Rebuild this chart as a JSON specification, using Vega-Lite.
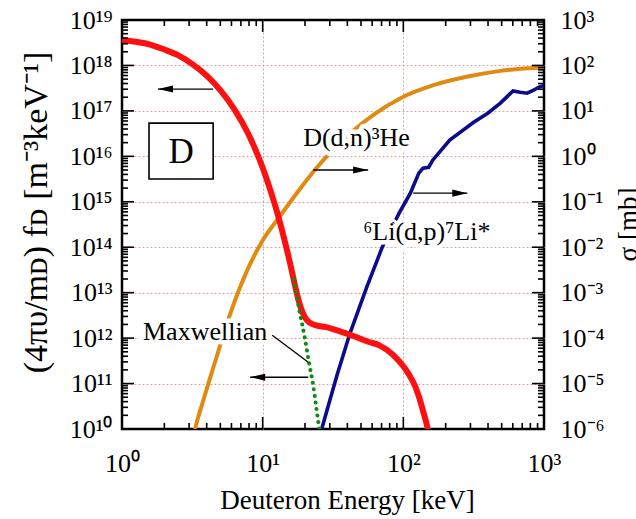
{
  "$schema": "https://vega.github.io/schema/vega-lite/v6.json",
  "width": 422,
  "height": 409,
  "autosize": {"type": "none"},
  "padding": {"left": 122, "top": 20, "right": 92, "bottom": 90},
  "background": "white",
  "config": {
    "view": {"stroke": "black", "strokeWidth": 2.5},
    "font": "Liberation Serif",
    "axis": {
      "labelFont": "Liberation Serif",
      "titleFont": "Liberation Serif",
      "labelFontSize": 26,
      "titleFontSize": 27,
      "labelColor": "black",
      "titleColor": "black",
      "titleFontWeight": "normal",
      "labelOverlap": false,
      "labelFlush": false,
      "domain": false,
      "ticks": false,
      "gridColor": "#e0a0a0",
      "gridDash": [2, 2],
      "gridWidth": 1
    }
  },
  "datasets": {
    "red": [
      {"E": 1, "f": 3.63e18}, {"E": 1.259, "f": 3.31e18}, {"E": 1.585, "f": 2.88e18},
      {"E": 1.995, "f": 2.24e18}, {"E": 2.512, "f": 1.66e18}, {"E": 3.162, "f": 1.07e18},
      {"E": 3.981, "f": 6.03e17}, {"E": 5.012, "f": 2.82e17}, {"E": 6.31, "f": 1.07e17},
      {"E": 7.943, "f": 3.02e16}, {"E": 10, "f": 5.62e15}, {"E": 11.22, "f": 2.0e15},
      {"E": 12.59, "f": 6.31e14}, {"E": 14.13, "f": 1.66e14}, {"E": 15.85, "f": 3.8e13},
      {"E": 17.38, "f": 1.05e13}, {"E": 18.62, "f": 4.79e12}, {"E": 19.95, "f": 2.88e12},
      {"E": 21.38, "f": 2.24e12}, {"E": 23.99, "f": 1.91e12}, {"E": 28.18, "f": 1.74e12},
      {"E": 35.48, "f": 1.41e12}, {"E": 44.67, "f": 1.1e12}, {"E": 56.23, "f": 8.32e11},
      {"E": 67.61, "f": 6.92e11}, {"E": 83.18, "f": 4.47e11}, {"E": 100, "f": 2.4e11},
      {"E": 109.6, "f": 1.58e11}, {"E": 120.2, "f": 9.33e10}, {"E": 128.8, "f": 5.25e10},
      {"E": 138, "f": 2.51e10}, {"E": 147.9, "f": 1.12e10}, {"E": 154.9, "f": 5.0e9}
    ],
    "maxw": [
      {"E": 16.6, "f": 2.0e13}, {"E": 18.2, "f": 4.17e12}, {"E": 19.95, "f": 1.0e12},
      {"E": 21.38, "f": 2.82e11}, {"E": 22.91, "f": 8.91e10}, {"E": 23.99, "f": 3.16e10},
      {"E": 25.12, "f": 1.12e10}, {"E": 26.3, "f": 3.98e9}
    ],
    "dd": [
      {"E": 3.162, "s": 5.0e-7}, {"E": 3.311, "s": 1.0e-6}, {"E": 3.802, "s": 4.47e-6},
      {"E": 4.467, "s": 2.29e-5}, {"E": 5.888, "s": 3.47e-4}, {"E": 7.762, "s": 3.09e-3},
      {"E": 10, "s": 1.41e-2}, {"E": 13.18, "s": 4.68e-2}, {"E": 17.78, "s": 0.166},
      {"E": 24.55, "s": 0.589}, {"E": 31.62, "s": 1.38}, {"E": 44.67, "s": 3.8},
      {"E": 63.1, "s": 8.71}, {"E": 95.5, "s": 19.05}, {"E": 166, "s": 37.2},
      {"E": 281.8, "s": 56.2}, {"E": 489.8, "s": 75.9}, {"E": 1000, "s": 91.2}
    ],
    "li": [
      {"E": 25.7, "s": 7.08e-7}, {"E": 26.3, "s": 1.0e-6}, {"E": 29.51, "s": 3.55e-6},
      {"E": 33.88, "s": 1.58e-5}, {"E": 41.69, "s": 1.26e-4}, {"E": 54.95, "s": 1.32e-3},
      {"E": 70.79, "s": 1.0e-2}, {"E": 93.33, "s": 5.62e-2}, {"E": 112.2, "s": 0.155},
      {"E": 128.8, "s": 0.427}, {"E": 138, "s": 0.55}, {"E": 151.4, "s": 0.575},
      {"E": 162.2, "s": 0.832}, {"E": 213.8, "s": 2.29}, {"E": 316.2, "s": 5.62},
      {"E": 398.1, "s": 8.91}, {"E": 489.8, "s": 14.8}, {"E": 602.6, "s": 27.5},
      {"E": 676.1, "s": 25.7}, {"E": 758.6, "s": 24.5}, {"E": 851.1, "s": 28.8},
      {"E": 912, "s": 33.1}, {"E": 1000, "s": 36.3}
    ],
    "arrows": [
      {"E1": 1.803, "E2": 4.446, "f": 3.02e17, "dir": "left"},
      {"E1": 22.9, "E2": 56.2, "f": 5.01e15, "dir": "right"},
      {"E1": 117.5, "E2": 285, "f": 1.55e15, "dir": "right"},
      {"E1": 8.15, "E2": 21.1, "f": 1.38e11, "dir": "left"}
    ],
    "labels": [
      {"E": 19.4, "f": 2.51e16, "text": "D(d,n)³He"},
      {"E": 51.9, "f": 2.19e14, "text": "⁶Li(d,p)⁷Li*"},
      {"E": 1.41, "f": 1.38e12, "text": "Maxwellian"}
    ],
    "box": [{"E1": 1.556, "E2": 4.446, "f1": 5.37e16, "f2": 3.16e15, "Ec": 2.63, "fc": 1.26e16, "text": "D"}],
    "leader": [{"E1": 11.7, "E2": 21.1, "f1": 1.15e12, "f2": 2.95e11}],
    "xt": [
      {"v": 1, "b0": 1e10, "b1": 1.84e10, "t0": 1e19, "t1": 5.45e18},
      {"v": 2, "b0": 1e10, "b1": 1.36e10, "t0": 1e19, "t1": 7.37e18},
      {"v": 3, "b0": 1e10, "b1": 1.36e10, "t0": 1e19, "t1": 7.37e18},
      {"v": 4, "b0": 1e10, "b1": 1.36e10, "t0": 1e19, "t1": 7.37e18},
      {"v": 5, "b0": 1e10, "b1": 1.36e10, "t0": 1e19, "t1": 7.37e18},
      {"v": 6, "b0": 1e10, "b1": 1.36e10, "t0": 1e19, "t1": 7.37e18},
      {"v": 7, "b0": 1e10, "b1": 1.36e10, "t0": 1e19, "t1": 7.37e18},
      {"v": 8, "b0": 1e10, "b1": 1.36e10, "t0": 1e19, "t1": 7.37e18},
      {"v": 9, "b0": 1e10, "b1": 1.36e10, "t0": 1e19, "t1": 7.37e18},
      {"v": 10, "b0": 1e10, "b1": 1.84e10, "t0": 1e19, "t1": 5.45e18},
      {"v": 20, "b0": 1e10, "b1": 1.36e10, "t0": 1e19, "t1": 7.37e18},
      {"v": 30, "b0": 1e10, "b1": 1.36e10, "t0": 1e19, "t1": 7.37e18},
      {"v": 40, "b0": 1e10, "b1": 1.36e10, "t0": 1e19, "t1": 7.37e18},
      {"v": 50, "b0": 1e10, "b1": 1.36e10, "t0": 1e19, "t1": 7.37e18},
      {"v": 60, "b0": 1e10, "b1": 1.36e10, "t0": 1e19, "t1": 7.37e18},
      {"v": 70, "b0": 1e10, "b1": 1.36e10, "t0": 1e19, "t1": 7.37e18},
      {"v": 80, "b0": 1e10, "b1": 1.36e10, "t0": 1e19, "t1": 7.37e18},
      {"v": 90, "b0": 1e10, "b1": 1.36e10, "t0": 1e19, "t1": 7.37e18},
      {"v": 100, "b0": 1e10, "b1": 1.84e10, "t0": 1e19, "t1": 5.45e18},
      {"v": 200, "b0": 1e10, "b1": 1.36e10, "t0": 1e19, "t1": 7.37e18},
      {"v": 300, "b0": 1e10, "b1": 1.36e10, "t0": 1e19, "t1": 7.37e18},
      {"v": 400, "b0": 1e10, "b1": 1.36e10, "t0": 1e19, "t1": 7.37e18},
      {"v": 500, "b0": 1e10, "b1": 1.36e10, "t0": 1e19, "t1": 7.37e18},
      {"v": 600, "b0": 1e10, "b1": 1.36e10, "t0": 1e19, "t1": 7.37e18},
      {"v": 700, "b0": 1e10, "b1": 1.36e10, "t0": 1e19, "t1": 7.37e18},
      {"v": 800, "b0": 1e10, "b1": 1.36e10, "t0": 1e19, "t1": 7.37e18},
      {"v": 900, "b0": 1e10, "b1": 1.36e10, "t0": 1e19, "t1": 7.37e18},
      {"v": 1000, "b0": 1e10, "b1": 1.84e10, "t0": 1e19, "t1": 5.45e18}
    ],
    "yt": [
      {"v": 1e10, "l0": 1, "l1": 1.217, "r0": 1000, "r1": 821.7},
      {"v": 2e10, "l0": 1, "l1": 1.103, "r0": 1000, "r1": 906.6}, {"v": 3e10, "l0": 1, "l1": 1.103, "r0": 1000, "r1": 906.6}, {"v": 4e10, "l0": 1, "l1": 1.103, "r0": 1000, "r1": 906.6}, {"v": 5e10, "l0": 1, "l1": 1.103, "r0": 1000, "r1": 906.6}, {"v": 6e10, "l0": 1, "l1": 1.103, "r0": 1000, "r1": 906.6}, {"v": 7e10, "l0": 1, "l1": 1.103, "r0": 1000, "r1": 906.6}, {"v": 8e10, "l0": 1, "l1": 1.103, "r0": 1000, "r1": 906.6}, {"v": 9e10, "l0": 1, "l1": 1.103, "r0": 1000, "r1": 906.6},
      {"v": 1e11, "l0": 1, "l1": 1.217, "r0": 1000, "r1": 821.7},
      {"v": 2e11, "l0": 1, "l1": 1.103, "r0": 1000, "r1": 906.6}, {"v": 3e11, "l0": 1, "l1": 1.103, "r0": 1000, "r1": 906.6}, {"v": 4e11, "l0": 1, "l1": 1.103, "r0": 1000, "r1": 906.6}, {"v": 5e11, "l0": 1, "l1": 1.103, "r0": 1000, "r1": 906.6}, {"v": 6e11, "l0": 1, "l1": 1.103, "r0": 1000, "r1": 906.6}, {"v": 7e11, "l0": 1, "l1": 1.103, "r0": 1000, "r1": 906.6}, {"v": 8e11, "l0": 1, "l1": 1.103, "r0": 1000, "r1": 906.6}, {"v": 9e11, "l0": 1, "l1": 1.103, "r0": 1000, "r1": 906.6},
      {"v": 1e12, "l0": 1, "l1": 1.217, "r0": 1000, "r1": 821.7},
      {"v": 2e12, "l0": 1, "l1": 1.103, "r0": 1000, "r1": 906.6}, {"v": 3e12, "l0": 1, "l1": 1.103, "r0": 1000, "r1": 906.6}, {"v": 4e12, "l0": 1, "l1": 1.103, "r0": 1000, "r1": 906.6}, {"v": 5e12, "l0": 1, "l1": 1.103, "r0": 1000, "r1": 906.6}, {"v": 6e12, "l0": 1, "l1": 1.103, "r0": 1000, "r1": 906.6}, {"v": 7e12, "l0": 1, "l1": 1.103, "r0": 1000, "r1": 906.6}, {"v": 8e12, "l0": 1, "l1": 1.103, "r0": 1000, "r1": 906.6}, {"v": 9e12, "l0": 1, "l1": 1.103, "r0": 1000, "r1": 906.6},
      {"v": 1e13, "l0": 1, "l1": 1.217, "r0": 1000, "r1": 821.7},
      {"v": 2e13, "l0": 1, "l1": 1.103, "r0": 1000, "r1": 906.6}, {"v": 3e13, "l0": 1, "l1": 1.103, "r0": 1000, "r1": 906.6}, {"v": 4e13, "l0": 1, "l1": 1.103, "r0": 1000, "r1": 906.6}, {"v": 5e13, "l0": 1, "l1": 1.103, "r0": 1000, "r1": 906.6}, {"v": 6e13, "l0": 1, "l1": 1.103, "r0": 1000, "r1": 906.6}, {"v": 7e13, "l0": 1, "l1": 1.103, "r0": 1000, "r1": 906.6}, {"v": 8e13, "l0": 1, "l1": 1.103, "r0": 1000, "r1": 906.6}, {"v": 9e13, "l0": 1, "l1": 1.103, "r0": 1000, "r1": 906.6},
      {"v": 1e14, "l0": 1, "l1": 1.217, "r0": 1000, "r1": 821.7},
      {"v": 2e14, "l0": 1, "l1": 1.103, "r0": 1000, "r1": 906.6}, {"v": 3e14, "l0": 1, "l1": 1.103, "r0": 1000, "r1": 906.6}, {"v": 4e14, "l0": 1, "l1": 1.103, "r0": 1000, "r1": 906.6}, {"v": 5e14, "l0": 1, "l1": 1.103, "r0": 1000, "r1": 906.6}, {"v": 6e14, "l0": 1, "l1": 1.103, "r0": 1000, "r1": 906.6}, {"v": 7e14, "l0": 1, "l1": 1.103, "r0": 1000, "r1": 906.6}, {"v": 8e14, "l0": 1, "l1": 1.103, "r0": 1000, "r1": 906.6}, {"v": 9e14, "l0": 1, "l1": 1.103, "r0": 1000, "r1": 906.6},
      {"v": 1e15, "l0": 1, "l1": 1.217, "r0": 1000, "r1": 821.7},
      {"v": 2e15, "l0": 1, "l1": 1.103, "r0": 1000, "r1": 906.6}, {"v": 3e15, "l0": 1, "l1": 1.103, "r0": 1000, "r1": 906.6}, {"v": 4e15, "l0": 1, "l1": 1.103, "r0": 1000, "r1": 906.6}, {"v": 5e15, "l0": 1, "l1": 1.103, "r0": 1000, "r1": 906.6}, {"v": 6e15, "l0": 1, "l1": 1.103, "r0": 1000, "r1": 906.6}, {"v": 7e15, "l0": 1, "l1": 1.103, "r0": 1000, "r1": 906.6}, {"v": 8e15, "l0": 1, "l1": 1.103, "r0": 1000, "r1": 906.6}, {"v": 9e15, "l0": 1, "l1": 1.103, "r0": 1000, "r1": 906.6},
      {"v": 1e16, "l0": 1, "l1": 1.217, "r0": 1000, "r1": 821.7},
      {"v": 2e16, "l0": 1, "l1": 1.103, "r0": 1000, "r1": 906.6}, {"v": 3e16, "l0": 1, "l1": 1.103, "r0": 1000, "r1": 906.6}, {"v": 4e16, "l0": 1, "l1": 1.103, "r0": 1000, "r1": 906.6}, {"v": 5e16, "l0": 1, "l1": 1.103, "r0": 1000, "r1": 906.6}, {"v": 6e16, "l0": 1, "l1": 1.103, "r0": 1000, "r1": 906.6}, {"v": 7e16, "l0": 1, "l1": 1.103, "r0": 1000, "r1": 906.6}, {"v": 8e16, "l0": 1, "l1": 1.103, "r0": 1000, "r1": 906.6}, {"v": 9e16, "l0": 1, "l1": 1.103, "r0": 1000, "r1": 906.6},
      {"v": 1e17, "l0": 1, "l1": 1.217, "r0": 1000, "r1": 821.7},
      {"v": 2e17, "l0": 1, "l1": 1.103, "r0": 1000, "r1": 906.6}, {"v": 3e17, "l0": 1, "l1": 1.103, "r0": 1000, "r1": 906.6}, {"v": 4e17, "l0": 1, "l1": 1.103, "r0": 1000, "r1": 906.6}, {"v": 5e17, "l0": 1, "l1": 1.103, "r0": 1000, "r1": 906.6}, {"v": 6e17, "l0": 1, "l1": 1.103, "r0": 1000, "r1": 906.6}, {"v": 7e17, "l0": 1, "l1": 1.103, "r0": 1000, "r1": 906.6}, {"v": 8e17, "l0": 1, "l1": 1.103, "r0": 1000, "r1": 906.6}, {"v": 9e17, "l0": 1, "l1": 1.103, "r0": 1000, "r1": 906.6},
      {"v": 1e18, "l0": 1, "l1": 1.217, "r0": 1000, "r1": 821.7},
      {"v": 2e18, "l0": 1, "l1": 1.103, "r0": 1000, "r1": 906.6}, {"v": 3e18, "l0": 1, "l1": 1.103, "r0": 1000, "r1": 906.6}, {"v": 4e18, "l0": 1, "l1": 1.103, "r0": 1000, "r1": 906.6}, {"v": 5e18, "l0": 1, "l1": 1.103, "r0": 1000, "r1": 906.6}, {"v": 6e18, "l0": 1, "l1": 1.103, "r0": 1000, "r1": 906.6}, {"v": 7e18, "l0": 1, "l1": 1.103, "r0": 1000, "r1": 906.6}, {"v": 8e18, "l0": 1, "l1": 1.103, "r0": 1000, "r1": 906.6}, {"v": 9e18, "l0": 1, "l1": 1.103, "r0": 1000, "r1": 906.6},
      {"v": 1e19, "l0": 1, "l1": 1.217, "r0": 1000, "r1": 821.7}
    ]
  },
  "layer": [
    {
      "data": {"name": "dd"},
      "mark": {"type": "line", "color": "#e08a12", "strokeWidth": 4, "interpolate": "monotone", "clip": true},
      "encoding": {
        "x": {"field": "E", "type": "quantitative", "scale": {"type": "log", "domain": [1, 1000], "nice": false}, "axis": null},
        "y": {
          "field": "s", "type": "quantitative",
          "scale": {"type": "log", "domain": [1e-6, 1e3], "nice": false},
          "axis": {
            "orient": "right",
            "values": [1e-6,1e-5,1e-4,1e-3,0.01,0.1,1,10,100,1000],
            "labelExpr": "'10' + (round(log(datum.value)/LN10) < 0 ? '⁻' : '') + substring('⁰¹²³⁴⁵⁶⁷⁸⁹', abs(round(log(datum.value)/LN10)) % 10, abs(round(log(datum.value)/LN10)) % 10 + 1)",
            "labelFont": "Liberation Serif", "titleFont": "Liberation Serif",
            "grid": false,
            "labelPadding": 16,
            "labelBaseline": "middle",
            "title": "σ [mb]",
            "titleAngle": 270,
            "titleX": 71,
            "titleY": 204,
            "titleAlign": "center",
            "titleBaseline": "top"
          }
        }
      }
    },
    {
      "data": {"name": "li"},
      "mark": {"type": "line", "color": "#0c0c8a", "strokeWidth": 3.6, "interpolate": "linear", "clip": true},
      "encoding": {
        "x": {"field": "E", "type": "quantitative", "scale": {"type": "log", "domain": [1, 1000], "nice": false}, "axis": null},
        "y": {"field": "s", "type": "quantitative", "scale": {"type": "log", "domain": [1e-6, 1e3], "nice": false}, "axis": null}
      }
    },
    {
      "data": {"name": "red"},
      "mark": {"type": "line", "color": "#ff1010", "strokeWidth": 6, "interpolate": "monotone", "clip": true},
      "encoding": {
        "x": {
          "field": "E", "type": "quantitative",
          "scale": {"type": "log", "domain": [1, 1000], "nice": false},
          "axis": {
            "orient": "bottom",
            "values": [1, 10, 100, 1000],
            "labelExpr": "'10' + substring('⁰¹²³⁴⁵⁶⁷⁸⁹', round(log(datum.value)/LN10), round(log(datum.value)/LN10) + 1)",
            "labelFont": "Liberation Serif", "titleFont": "Liberation Serif",
            "grid": false,
            "labelPadding": 21,
            "title": "Deuteron Energy [keV]",
            "titleX": 225,
            "titleY": 79,
            "titleBaseline": "alphabetic"
          }
        },
        "y": {
          "field": "f", "type": "quantitative",
          "scale": {"type": "log", "domain": [1e10, 1e19], "nice": false},
          "axis": {
            "orient": "left",
            "values": [1e10,1e11,1e12,1e13,1e14,1e15,1e16,1e17,1e18,1e19],
            "labelExpr": "'10' + substring('⁰¹²³⁴⁵⁶⁷⁸⁹', floor(round(log(datum.value)/LN10)/10), floor(round(log(datum.value)/LN10)/10) + 1) + substring('⁰¹²³⁴⁵⁶⁷⁸⁹', round(log(datum.value)/LN10) % 10, round(log(datum.value)/LN10) % 10 + 1)",
            "labelFont": "Liberation Serif", "titleFont": "Liberation Serif",
            "grid": false,
            "labelPadding": 10,
            "labelBaseline": "middle",
            "title": "(4πυ/mᴅ) fᴅ  [m⁻³keV⁻¹]",
            "titleFontSize": 34,
            "titleAngle": 270,
            "titleX": -86,
            "titleY": 192,
            "titleAlign": "center",
            "titleBaseline": "middle"
          }
        }
      }
    },
    {
      "data": {"name": "maxw"},
      "mark": {"type": "line", "color": "#118a11", "strokeWidth": 4, "strokeDash": [0.1, 6.5], "strokeCap": "round", "interpolate": "monotone", "clip": true},
      "encoding": {
        "x": {"field": "E", "type": "quantitative", "scale": {"type": "log", "domain": [1, 1000], "nice": false}, "axis": null},
        "y": {"field": "f", "type": "quantitative", "scale": {"type": "log", "domain": [1e10, 1e19], "nice": false}, "axis": null}
      }
    },
    {
      "data": {"name": "arrows"},
      "mark": {"type": "rule", "color": "black", "strokeWidth": 1.4},
      "encoding": {
        "x": {
          "field": "E1", "type": "quantitative",
          "scale": {"type": "log", "domain": [1, 1000], "nice": false},
          "axis": {"orient": "bottom", "values": [10, 100], "labels": false, "ticks": false, "domain": false, "grid": true, "title": null}
        },
        "x2": {"field": "E2"},
        "y": {
          "field": "f", "type": "quantitative",
          "scale": {"type": "log", "domain": [1e10, 1e19], "nice": false},
          "axis": {"orient": "left", "values": [1e11,1e12,1e13,1e14,1e15,1e16,1e17,1e18], "labels": false, "ticks": false, "domain": false, "grid": true, "title": null}
        }
      }
    },
    {
      "data": {"name": "arrows"},
      "transform": [{"filter": "datum.dir === 'left'"}],
      "mark": {"type": "point", "shape": "M-1,0L1,-0.47L1,0.47Z", "filled": true, "color": "black", "opacity": 1, "size": 225, "xOffset": 7.5, "strokeWidth": 0},
      "encoding": {
        "x": {"field": "E1", "type": "quantitative", "scale": {"type": "log", "domain": [1, 1000], "nice": false}, "axis": null},
        "y": {"field": "f", "type": "quantitative", "scale": {"type": "log", "domain": [1e10, 1e19], "nice": false}, "axis": null}
      }
    },
    {
      "data": {"name": "arrows"},
      "transform": [{"filter": "datum.dir === 'right'"}],
      "mark": {"type": "point", "shape": "M1,0L-1,-0.47L-1,0.47Z", "filled": true, "color": "black", "opacity": 1, "size": 225, "xOffset": -7.5, "strokeWidth": 0},
      "encoding": {
        "x": {"field": "E2", "type": "quantitative", "scale": {"type": "log", "domain": [1, 1000], "nice": false}, "axis": null},
        "y": {"field": "f", "type": "quantitative", "scale": {"type": "log", "domain": [1e10, 1e19], "nice": false}, "axis": null}
      }
    },
    {
      "data": {"name": "leader"},
      "mark": {"type": "rule", "color": "black", "strokeWidth": 1.3},
      "encoding": {
        "x": {"field": "E1", "type": "quantitative", "scale": {"type": "log", "domain": [1, 1000], "nice": false}, "axis": null},
        "x2": {"field": "E2"},
        "y": {"field": "f1", "type": "quantitative", "scale": {"type": "log", "domain": [1e10, 1e19], "nice": false}, "axis": null},
        "y2": {"field": "f2"}
      }
    },
    {
      "data": {"name": "box"},
      "mark": {"type": "rect", "fill": "white", "stroke": "black", "strokeWidth": 1.6},
      "encoding": {
        "x": {"field": "E1", "type": "quantitative", "scale": {"type": "log", "domain": [1, 1000], "nice": false}, "axis": null},
        "x2": {"field": "E2"},
        "y": {"field": "f1", "type": "quantitative", "scale": {"type": "log", "domain": [1e10, 1e19], "nice": false}, "axis": null},
        "y2": {"field": "f2"}
      }
    },
    {
      "data": {"name": "box"},
      "mark": {"type": "text", "font": "Liberation Serif", "fontSize": 35, "color": "black", "align": "center", "baseline": "middle"},
      "encoding": {
        "x": {"field": "Ec", "type": "quantitative", "scale": {"type": "log", "domain": [1, 1000], "nice": false}, "axis": null},
        "y": {"field": "fc", "type": "quantitative", "scale": {"type": "log", "domain": [1e10, 1e19], "nice": false}, "axis": null},
        "text": {"field": "text"}
      }
    },
    {
      "data": {"name": "xt"},
      "mark": {"type": "rule", "color": "black", "strokeWidth": 1.6},
      "encoding": {
        "x": {"field": "v", "type": "quantitative", "scale": {"type": "log", "domain": [1, 1000], "nice": false}, "axis": null},
        "y": {"field": "b0", "type": "quantitative", "scale": {"type": "log", "domain": [1e10, 1e19], "nice": false}, "axis": null},
        "y2": {"field": "b1"}
      }
    },
    {
      "data": {"name": "xt"},
      "mark": {"type": "rule", "color": "black", "strokeWidth": 1.6},
      "encoding": {
        "x": {"field": "v", "type": "quantitative", "scale": {"type": "log", "domain": [1, 1000], "nice": false}, "axis": null},
        "y": {"field": "t0", "type": "quantitative", "scale": {"type": "log", "domain": [1e10, 1e19], "nice": false}, "axis": null},
        "y2": {"field": "t1"}
      }
    },
    {
      "data": {"name": "yt"},
      "mark": {"type": "rule", "color": "black", "strokeWidth": 1.6},
      "encoding": {
        "x": {"field": "l0", "type": "quantitative", "scale": {"type": "log", "domain": [1, 1000], "nice": false}, "axis": null},
        "x2": {"field": "l1"},
        "y": {"field": "v", "type": "quantitative", "scale": {"type": "log", "domain": [1e10, 1e19], "nice": false}, "axis": null}
      }
    },
    {
      "data": {"name": "yt"},
      "mark": {"type": "rule", "color": "black", "strokeWidth": 1.6},
      "encoding": {
        "x": {"field": "r0", "type": "quantitative", "scale": {"type": "log", "domain": [1, 1000], "nice": false}, "axis": null},
        "x2": {"field": "r1"},
        "y": {"field": "v", "type": "quantitative", "scale": {"type": "log", "domain": [1e10, 1e19], "nice": false}, "axis": null}
      }
    },
    {
      "data": {"name": "labels"},
      "mark": {"type": "text", "font": "Liberation Serif", "fontSize": 26, "align": "left", "baseline": "middle", "fill": "white", "stroke": "white", "strokeWidth": 9, "strokeJoin": "round"},
      "encoding": {
        "x": {"field": "E", "type": "quantitative", "scale": {"type": "log", "domain": [1, 1000], "nice": false}, "axis": null},
        "y": {"field": "f", "type": "quantitative", "scale": {"type": "log", "domain": [1e10, 1e19], "nice": false}, "axis": null},
        "text": {"field": "text"}
      }
    },
    {
      "data": {"name": "labels"},
      "mark": {"type": "text", "font": "Liberation Serif", "fontSize": 26, "align": "left", "baseline": "middle", "color": "black"},
      "encoding": {
        "x": {"field": "E", "type": "quantitative", "scale": {"type": "log", "domain": [1, 1000], "nice": false}, "axis": null},
        "y": {"field": "f", "type": "quantitative", "scale": {"type": "log", "domain": [1e10, 1e19], "nice": false}, "axis": null},
        "text": {"field": "text"}
      }
    }
  ],
  "resolve": {"scale": {"y": "independent"}, "axis": {"x": "independent", "y": "independent"}}
}
